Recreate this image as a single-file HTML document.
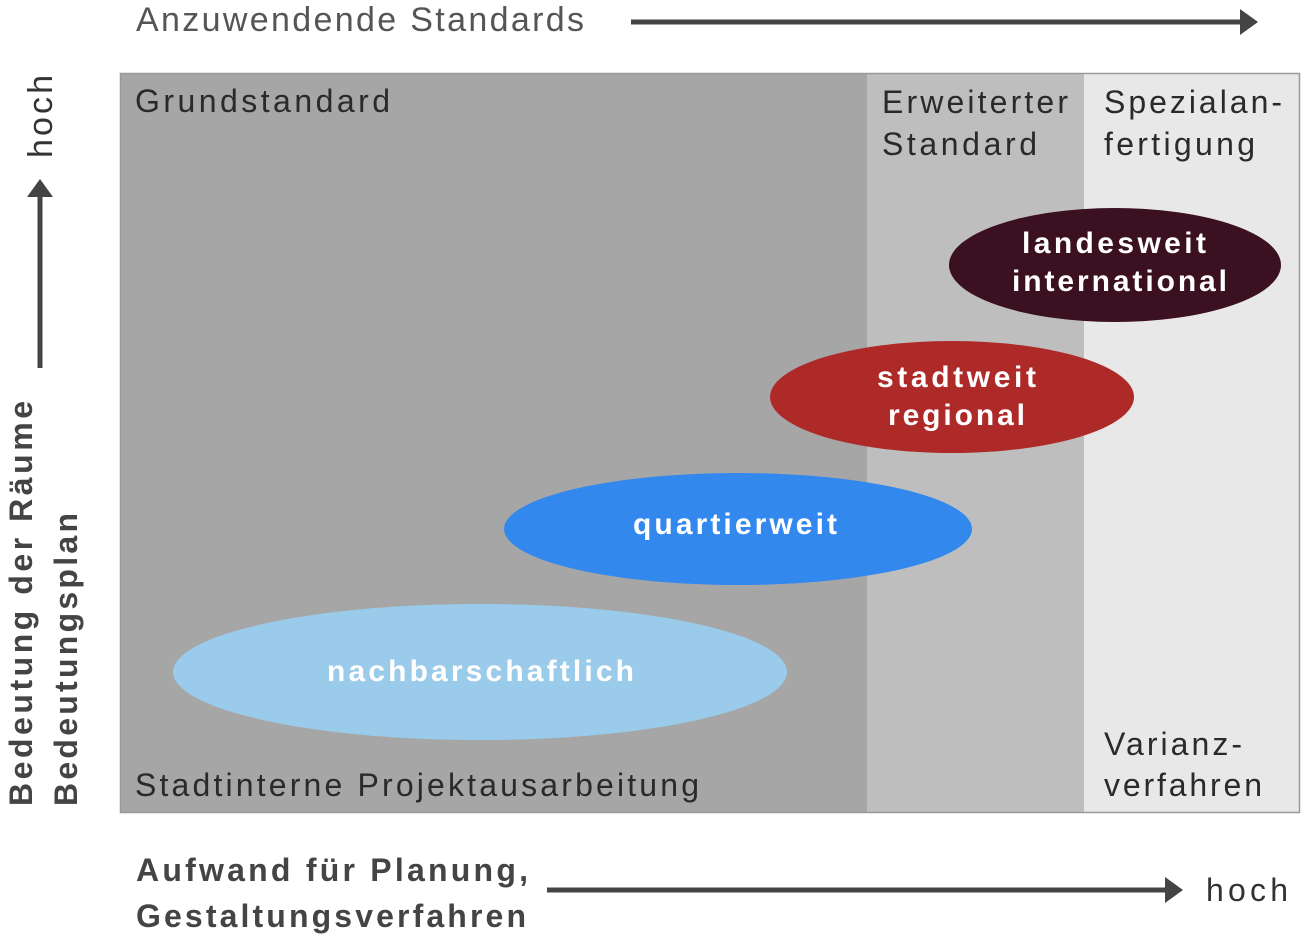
<!DOCTYPE html>
<html><head><meta charset="utf-8"><style>
body{margin:0;width:1301px;height:935px;background:#fff;overflow:hidden;font-family:"Liberation Sans",sans-serif;}
</style></head><body>
<svg width="1301" height="935" xmlns="http://www.w3.org/2000/svg" font-family="Liberation Sans, sans-serif">
<rect x="120" y="73" width="747" height="740" fill="#a6a6a6"/>
<rect x="867" y="73" width="217" height="740" fill="#bebebe"/>
<rect x="1084" y="73" width="216" height="740" fill="#e8e8e8"/>
<rect x="120.5" y="73.5" width="1179" height="739" fill="none" stroke="#999" stroke-width="1.5"/>
<g fill="#2a2a2a" font-size="32" lengthAdjust="spacing">
<text x="135" y="112" textLength="255">Grundstandard</text>
<text x="882" y="113" textLength="186">Erweiterter</text>
<text x="882" y="155" textLength="155">Standard</text>
<text x="1104" y="113" textLength="178">Spezialan-</text>
<text x="1104" y="155" textLength="151">fertigung</text>
<text x="1104" y="755" textLength="138">Varianz-</text>
<text x="1104" y="796" textLength="158">verfahren</text>
<text x="135" y="796" textLength="564">Stadtinterne Projektausarbeitung</text>
</g>
<ellipse cx="1115" cy="265" rx="166" ry="57" fill="#3b1020"/>
<ellipse cx="952" cy="397" rx="182" ry="56" fill="#ae2a29"/>
<ellipse cx="738" cy="529" rx="234" ry="56" fill="#3388ee"/>
<ellipse cx="480" cy="672" rx="307" ry="68" fill="#9acbeb"/>
<g fill="#fff" font-size="30" font-weight="bold">
<text x="1022" y="253" textLength="184">landesweit</text>
<text x="1012" y="291" textLength="215">international</text>
<text x="877" y="387" textLength="159">stadtweit</text>
<text x="888" y="425" textLength="137">regional</text>
<text x="633" y="534" textLength="204">quartierweit</text>
<text x="327" y="681" textLength="307">nachbarschaftlich</text>
</g>
<text x="136" y="31" font-size="34" fill="#555" textLength="448">Anzuwendende Standards</text>
<line x1="631" y1="22" x2="1240" y2="22" stroke="#444" stroke-width="5"/>
<polygon points="1240,9 1258,22 1240,35" fill="#444"/>
<line x1="40" y1="368" x2="40" y2="196" stroke="#444" stroke-width="5"/>
<polygon points="27,197 40,179 53,197" fill="#444"/>
<text transform="translate(52,158) rotate(-90)" font-size="34" fill="#333" textLength="83">hoch</text>
<text transform="translate(32,806) rotate(-90)" font-size="32" font-weight="bold" fill="#444" textLength="405">Bedeutung der Räume</text>
<text transform="translate(77,806) rotate(-90)" font-size="32" font-weight="bold" fill="#444" textLength="293">Bedeutungsplan</text>
<text x="136" y="881" font-size="32" font-weight="bold" fill="#444" textLength="392">Aufwand für Planung,</text>
<text x="136" y="927" font-size="32" font-weight="bold" fill="#444" textLength="390">Gestaltungsverfahren</text>
<line x1="547" y1="890" x2="1166" y2="890" stroke="#444" stroke-width="5"/>
<polygon points="1165,877 1183,890 1165,903" fill="#444"/>
<text x="1206" y="901" font-size="32" fill="#333" textLength="82">hoch</text>
</svg>
</body></html>
